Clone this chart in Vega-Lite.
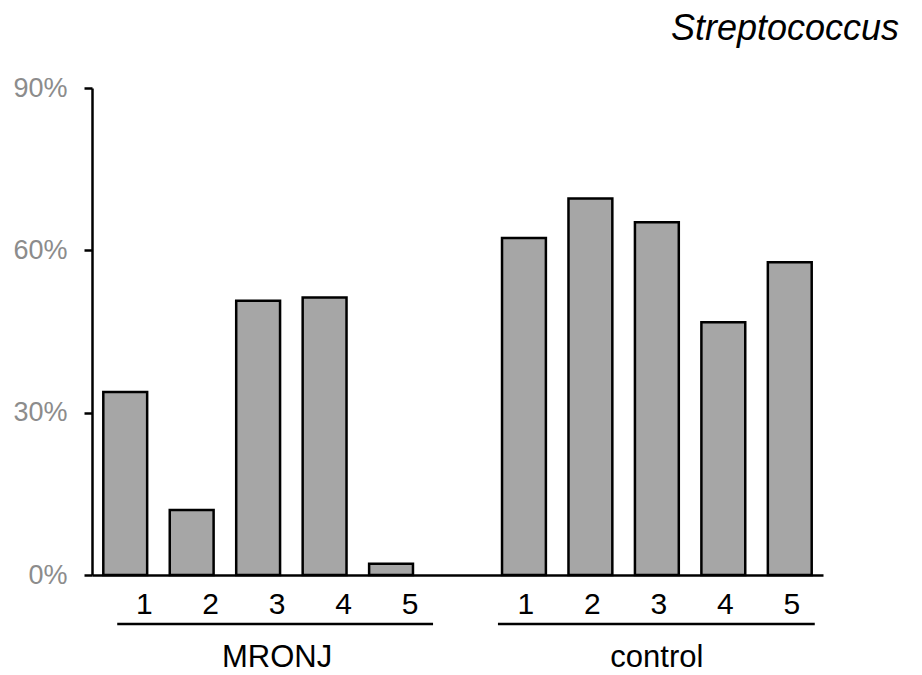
{
  "$schema": "https://vega.github.io/schema/vega-lite/v6.json",
  "width": 731,
  "height": 487,
  "autosize": {"type": "none"},
  "padding": {"left": 92, "top": 88, "right": 99, "bottom": 100},
  "background": "white",
  "config": {
    "view": {"stroke": null},
    "font": "Liberation Sans",
    "text": {"font": "Liberation Sans"}
  },
  "title": {
    "text": "Streptococcus",
    "anchor": "end",
    "orient": "top",
    "font": "Liberation Sans",
    "fontSize": 36,
    "fontStyle": "italic",
    "fontWeight": "normal",
    "color": "black",
    "baseline": "alphabetic",
    "offset": -2,
    "dx": 76
  },
  "datasets": {
    "bars": [
      {"group": "MRONJ", "sample": "1", "slot": "MRONJ 1", "value": 0.338},
      {"group": "MRONJ", "sample": "2", "slot": "MRONJ 2", "value": 0.120},
      {"group": "MRONJ", "sample": "3", "slot": "MRONJ 3", "value": 0.507},
      {"group": "MRONJ", "sample": "4", "slot": "MRONJ 4", "value": 0.513},
      {"group": "MRONJ", "sample": "5", "slot": "MRONJ 5", "value": 0.021},
      {"group": "control", "sample": "1", "slot": "control 1", "value": 0.623},
      {"group": "control", "sample": "2", "slot": "control 2", "value": 0.696},
      {"group": "control", "sample": "3", "slot": "control 3", "value": 0.652},
      {"group": "control", "sample": "4", "slot": "control 4", "value": 0.467},
      {"group": "control", "sample": "5", "slot": "control 5", "value": 0.578}
    ],
    "groups": [
      {"group": "MRONJ", "first": "MRONJ 1", "mid": "MRONJ 3", "last": "MRONJ 5"},
      {"group": "control", "first": "control 1", "mid": "control 3", "last": "control 5"}
    ]
  },
  "layer": [
    {
      "data": {"name": "bars"},
      "mark": {"type": "bar", "fill": "#a6a6a6", "stroke": "black", "strokeWidth": 2.5},
      "encoding": {
        "x": {
          "field": "slot",
          "type": "nominal",
          "sort": null,
          "scale": {
            "domain": ["MRONJ 1", "MRONJ 2", "MRONJ 3", "MRONJ 4", "MRONJ 5", "gap", "control 1", "control 2", "control 3", "control 4", "control 5"],
            "paddingInner": 0.34,
            "paddingOuter": 0.17
          },
          "axis": {
            "labels": false,
            "ticks": false,
            "title": null,
            "domain": true,
            "domainColor": "black",
            "domainWidth": 2.5,
            "grid": false
          }
        },
        "y": {
          "field": "value",
          "type": "quantitative",
          "scale": {"domain": [0, 0.9], "nice": false, "zero": true},
          "axis": {
            "values": [0, 0.3, 0.6, 0.9],
            "format": ".0%",
            "title": null,
            "grid": false,
            "domainColor": "black",
            "domainWidth": 2.5,
            "tickColor": "black",
            "tickWidth": 2.5,
            "tickSize": 8,
            "labelPadding": 17,
            "labelFont": "Liberation Sans",
            "labelFontSize": 27,
            "labelColor": "#8c8c8c"
          }
        }
      }
    },
    {
      "data": {"name": "bars"},
      "transform": [{"filter": "datum.group === 'MRONJ'"}],
      "mark": {"type": "text", "fontSize": 30, "color": "black", "baseline": "alphabetic", "align": "center", "dy": 39, "dx": 19},
      "encoding": {
        "x": {"field": "slot", "type": "nominal", "sort": null},
        "y": {"datum": 0, "type": "quantitative"},
        "text": {"field": "sample"}
      }
    },
    {
      "data": {"name": "bars"},
      "transform": [{"filter": "datum.group === 'control'"}],
      "mark": {"type": "text", "fontSize": 30, "color": "black", "baseline": "alphabetic", "align": "center", "dy": 39, "dx": 2},
      "encoding": {
        "x": {"field": "slot", "type": "nominal", "sort": null},
        "y": {"datum": 0, "type": "quantitative"},
        "text": {"field": "sample"}
      }
    },
    {
      "data": {"name": "groups"},
      "transform": [{"filter": "datum.group === 'MRONJ'"}],
      "mark": {"type": "rule", "color": "black", "strokeWidth": 2.5, "yOffset": 49, "xOffset": -8, "x2Offset": 42},
      "encoding": {
        "x": {"field": "first", "type": "nominal"},
        "x2": {"field": "last"},
        "y": {"datum": 0, "type": "quantitative"}
      }
    },
    {
      "data": {"name": "groups"},
      "transform": [{"filter": "datum.group === 'control'"}],
      "mark": {"type": "rule", "color": "black", "strokeWidth": 2.5, "yOffset": 49, "xOffset": -26, "x2Offset": 25},
      "encoding": {
        "x": {"field": "first", "type": "nominal"},
        "x2": {"field": "last"},
        "y": {"datum": 0, "type": "quantitative"}
      }
    },
    {
      "data": {"name": "groups"},
      "transform": [{"filter": "datum.group === 'MRONJ'"}],
      "mark": {"type": "text", "fontSize": 31, "color": "black", "baseline": "alphabetic", "align": "center", "dy": 92, "dx": 19},
      "encoding": {
        "x": {"field": "mid", "type": "nominal"},
        "y": {"datum": 0, "type": "quantitative"},
        "text": {"field": "group"}
      }
    },
    {
      "data": {"name": "groups"},
      "transform": [{"filter": "datum.group === 'control'"}],
      "mark": {"type": "text", "fontSize": 31, "color": "black", "baseline": "alphabetic", "align": "center", "dy": 92, "dx": 0},
      "encoding": {
        "x": {"field": "mid", "type": "nominal"},
        "y": {"datum": 0, "type": "quantitative"},
        "text": {"field": "group"}
      }
    }
  ]
}
